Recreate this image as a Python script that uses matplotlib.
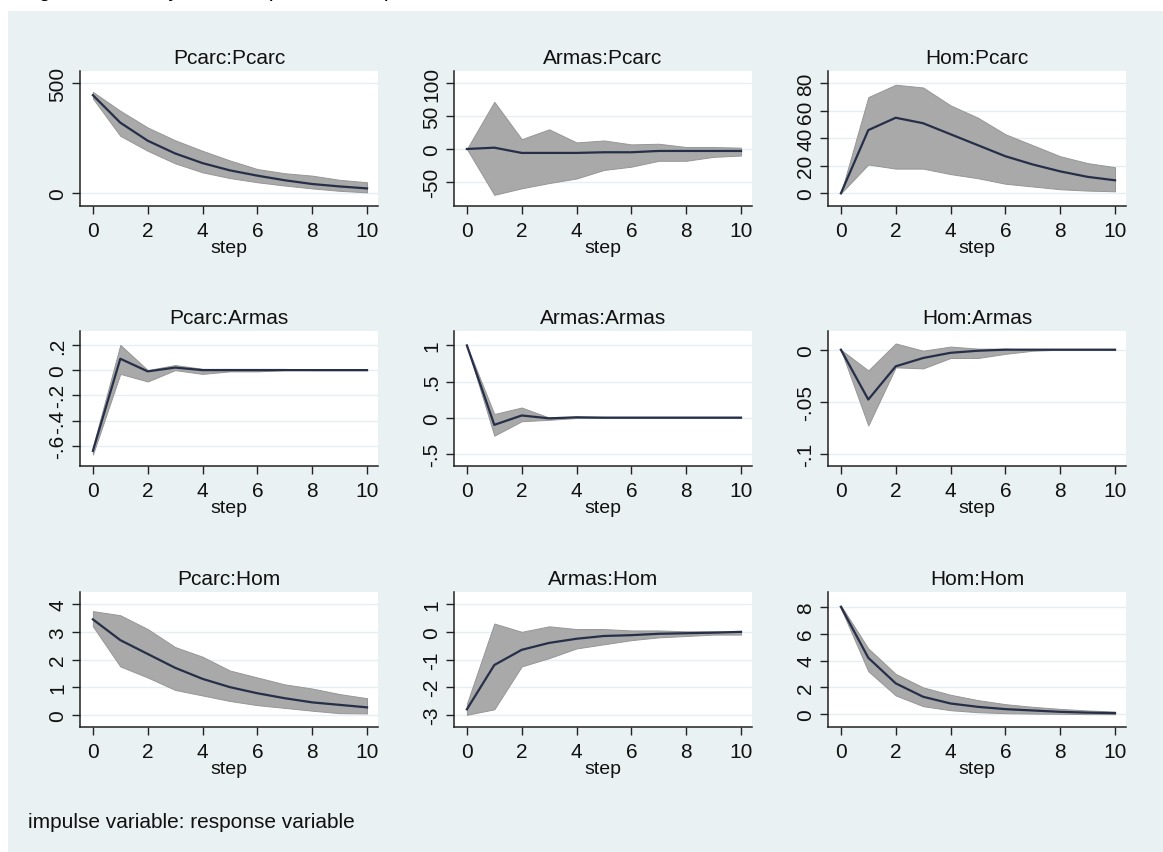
import numpy as np
import matplotlib.pyplot as plt
from matplotlib.patches import Rectangle

plt.rcParams['font.family'] = ['Liberation Sans', 'DejaVu Sans']

steps = list(range(11))

# impulse:response  -> (irf, upper, lower)
titles = ['Pcarc:Pcarc', 'Armas:Pcarc', 'Hom:Pcarc',
          'Pcarc:Armas', 'Armas:Armas', 'Hom:Armas',
          'Pcarc:Hom', 'Armas:Hom', 'Hom:Hom']

pcarc_pcarc = [445, 320, 238, 180, 136, 103, 79, 58, 41, 30, 21]
pcarc_pcarc_hi = [460, 374, 298, 240, 192, 148, 109, 90, 79, 60, 49]
pcarc_pcarc_lo = [430, 260, 192, 135, 94, 68, 49, 34, 21, 10, 3]

armas_pcarc = [0, 2, -6, -6, -6, -5, -5, -3, -3, -3, -3]
armas_pcarc_hi = [0, 72, 15, 30, 10, 13, 7, 8, 3, 3, 2]
armas_pcarc_lo = [0, -70, -60, -52, -45, -32, -27, -18, -18, -12, -10]

hom_pcarc = [0, 46, 55, 51, 43, 35, 27, 21, 16, 12, 9.5]
hom_pcarc_hi = [0, 70, 79, 77, 64, 55, 43, 35, 27, 22, 19]
hom_pcarc_lo = [0, 21, 18, 18, 14, 11, 7, 5, 3, 2, 1.5]

pcarc_armas = [-0.64, 0.09, -0.01, 0.02, 0.0, 0.0, 0.0, 0.0, 0.0, 0.0, 0.0]
pcarc_armas_hi = [-0.61, 0.20, 0.0, 0.04, 0.01, 0.01, 0.01, 0.01, 0.0, 0.0, 0.0]
pcarc_armas_lo = [-0.67, -0.03, -0.09, 0.0, -0.03, -0.01, -0.01, 0.0, 0.0, 0.0, 0.0]

armas_armas = [1.0, -0.10, 0.03, -0.01, 0.005, 0.0, 0.0, 0.0, 0.0, 0.0, 0.0]
armas_armas_hi = [1.0, 0.05, 0.14, 0.0, 0.01, 0.0, 0.0, 0.0, 0.0, 0.0, 0.0]
armas_armas_lo = [1.0, -0.25, -0.05, -0.03, -0.005, 0.0, 0.0, 0.0, 0.0, 0.0, 0.0]

hom_armas = [0, -0.048, -0.016, -0.008, -0.003, -0.001, 0.0, 0.0, 0.0, 0.0, 0.0]
hom_armas_hi = [0, -0.02, 0.006, -0.001, 0.003, 0.001, 0.001, 0.0, 0.0, 0.0, 0.0]
hom_armas_lo = [0, -0.073, -0.017, -0.018, -0.008, -0.008, -0.004, -0.001, 0.0, 0.0, 0.0]

pcarc_hom = [3.45, 2.7, 2.2, 1.7, 1.3, 1.0, 0.78, 0.6, 0.45, 0.36, 0.27]
pcarc_hom_hi = [3.75, 3.6, 3.1, 2.45, 2.1, 1.6, 1.35, 1.1, 0.95, 0.75, 0.6]
pcarc_hom_lo = [3.2, 1.75, 1.35, 0.9, 0.7, 0.5, 0.35, 0.25, 0.15, 0.06, 0.05]

armas_hom = [-2.8, -1.2, -0.65, -0.4, -0.25, -0.15, -0.12, -0.07, -0.05, -0.03, 0.0]
armas_hom_hi = [-2.6, 0.3, 0.0, 0.2, 0.1, 0.1, 0.05, 0.05, 0.02, 0.02, 0.01]
armas_hom_lo = [-3.0, -2.8, -1.25, -0.95, -0.6, -0.45, -0.3, -0.2, -0.15, -0.1, -0.1]

hom_hom = [8.0, 4.2, 2.3, 1.3, 0.8, 0.55, 0.38, 0.28, 0.18, 0.12, 0.08]
hom_hom_hi = [8.1, 4.9, 3.0, 2.0, 1.45, 1.05, 0.75, 0.55, 0.4, 0.28, 0.2]
hom_hom_lo = [7.9, 3.2, 1.4, 0.6, 0.3, 0.15, 0.08, 0.05, 0.03, 0.01, 0.0]

series = [
    (pcarc_pcarc, pcarc_pcarc_hi, pcarc_pcarc_lo),
    (armas_pcarc, armas_pcarc_hi, armas_pcarc_lo),
    (hom_pcarc, hom_pcarc_hi, hom_pcarc_lo),
    (pcarc_armas, pcarc_armas_hi, pcarc_armas_lo),
    (armas_armas, armas_armas_hi, armas_armas_lo),
    (hom_armas, hom_armas_hi, hom_armas_lo),
    (pcarc_hom, pcarc_hom_hi, pcarc_hom_lo),
    (armas_hom, armas_hom_hi, armas_hom_lo),
    (hom_hom, hom_hom_hi, hom_hom_lo),
]

yticks = [
    [0, 500], [-50, 0, 50, 100], [0, 20, 40, 60, 80],
    [-0.6, -0.4, -0.2, 0, 0.2], [-0.5, 0, 0.5, 1], [-0.1, -0.05, 0],
    [0, 1, 2, 3, 4], [-3, -2, -1, 0, 1], [0, 2, 4, 6, 8],
]
ytick_labels = [
    ['0', '500'], ['-50', '0', '50', '100'], ['0', '20', '40', '60', '80'],
    ['-.6', '-.4', '-.2', '0', '.2'], ['-.5', '0', '.5', '1'], ['-.1', '-.05', '0'],
    ['0', '1', '2', '3', '4'], ['-3', '-2', '-1', '0', '1'], ['0', '2', '4', '6', '8'],
]
ylims = [
    (-59, 555), (-87, 119), (-9.2, 89),
    (-0.76, 0.31), (-0.67, 1.2), (-0.112, 0.018),
    (-0.44, 4.44), (-3.44, 1.44), (-0.95, 9.1),
]
xticks = [0, 2, 4, 6, 8, 10]

W, H = 1163, 853
fig = plt.figure(figsize=(W / 100, H / 100), dpi=100, facecolor='white')
bg = '#eaf1f3'
fig.patches.append(Rectangle((8 / W, 0), 1 - 8 / W, 1 - 12 / H, transform=fig.transFigure,
                             facecolor=bg, edgecolor='none', zorder=-10))

# caption of the source document, cut off at the top edge
fig.text(20 / W, 1 + 4 / H, 'Figura 4 – Função de resposta ao impulso', fontsize=16,
         va='baseline', ha='left', color='black')

lefts = [80, 454, 828]
tops = [72, 332, 593]
aw, ah = 298, 135

for i, (irf, hi, lo) in enumerate(series):
    r, c = divmod(i, 3)
    ax = fig.add_axes([lefts[c] / W, 1 - (tops[r] + ah) / H, aw / W, ah / H])
    ax.set_facecolor('white')
    ax.fill_between(steps, lo, hi, color='#a9a9a9', edgecolor='#969696', lw=0.7, zorder=2)
    ax.plot(steps, irf, color='#262f48', lw=1.6, zorder=3)
    ax.set_xlim(-0.47, 10.4)
    ax.set_ylim(*ylims[i])
    ax.set_xticks(xticks)
    ax.set_yticks(yticks[i])
    ax.set_yticklabels(ytick_labels[i], rotation=90, va='center')
    ax.grid(axis='y', color='#e6eef1', lw=1.0, zorder=1)
    ax.set_axisbelow(True)
    for s in ['top', 'right']:
        ax.spines[s].set_visible(False)
    for s in ['left', 'bottom']:
        ax.spines[s].set_color('#222222')
        ax.spines[s].set_linewidth(1.1)
    ax.tick_params(axis='both', direction='out', length=6, width=1.0, color='#222222',
                   labelsize=15, labelcolor='#111111')
    ax.tick_params(axis='x', pad=5)
    ax.tick_params(axis='y', pad=3)
    ax.set_title(titles[i], fontsize=15, pad=6, color='#111111')
    ax.set_xlabel('step', fontsize=14, labelpad=-1, color='#111111')

fig.text(28 / W, 1 - 823 / H, 'impulse variable: response variable', fontsize=15,
         va='center', ha='left', color='#111111')

fig.savefig('out.png', dpi=100, facecolor=fig.get_facecolor())
